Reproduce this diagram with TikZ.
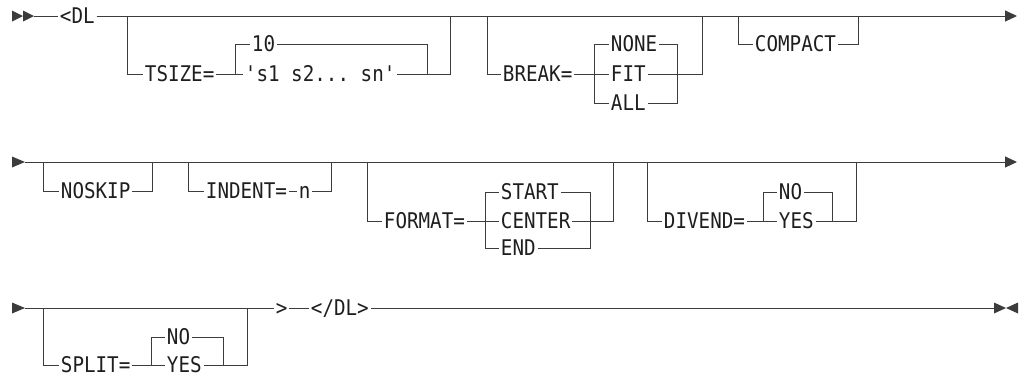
\documentclass[tikz,border=0pt]{standalone}
\usepackage{fontspec}
\setmonofont[FakeStretch=0.89]{DejaVu Sans Mono}
\usetikzlibrary{arrows.meta}

\definecolor{railgray}{HTML}{3C3C3C}
\definecolor{inkgray}{HTML}{1E1E1E}

\begin{document}
\begin{tikzpicture}[
x=1pt, y=-1pt,
line width=0.9pt,
color=railgray,
every node/.style={
inner ysep=0pt,
inner xsep=1.5pt,
anchor=west,
text height=15pt,
text depth=0pt,
text=inkgray,
font=\ttfamily\fontsize{21.6}{22}\selectfont
},
endtip/.style={-{Triangle[length=12pt,width=11pt]}}
]

\useasboundingbox (0,0) rectangle (1022,376);

\fill (12,10.5) -- (23,16) -- (12,21.5) -- cycle;
\fill (23,10.5) -- (34,16) -- (23,21.5) -- cycle;
\coordinate (S1) at (34,16);

\node (DL) at (58,16) {<DL};

\node (TSIZE) at (143,74) {TSIZE=};
\node (TEN) at (250,44) {10};
\node (TLIST) at (243,74) {'s1 s2... sn'};

\node (BREAK) at (501,74) {BREAK=};
\node (NONE) at (609,44) {NONE};
\node (FIT) at (609,74) {FIT};
\node (ALL) at (609,103) {ALL};

\node (COMPACT) at (753,44) {COMPACT};

\coordinate (E1) at (1017,16);
\coordinate (A1) at (127,16);
\coordinate (A2) at (235,74);
\coordinate (A3) at (427,74);
\coordinate (A4) at (450,16);
\coordinate (B1) at (487,16);
\coordinate (B2) at (594,74);
\coordinate (B3) at (677,74);
\coordinate (B4) at (702,16);
\coordinate (C1) at (738,16);
\coordinate (C2) at (858,16);

\draw (S1) -- (DL);
\draw[endtip] (DL) -- (E1);
\draw (A1) |- (TSIZE);
\draw (TSIZE) -- (TLIST);
\draw (A2) |- (TEN);
\draw (TEN) -| (A3);
\draw (TLIST) -| (A4);
\draw (B1) |- (BREAK);
\draw (BREAK) -- (FIT);
\draw (B2) |- (NONE);
\draw (B2) |- (ALL);
\draw (NONE) -| (B3);
\draw (ALL) -| (B3);
\draw (FIT) -| (B4);
\draw (C1) |- (COMPACT);
\draw (COMPACT) -| (C2);

\fill (12,156.5) -- (25,162) -- (12,167.5) -- cycle;
\coordinate (S2) at (25,162);
\coordinate (E2) at (1017,162);

\node (NOSKIP) at (59,191) {NOSKIP};
\node (INDENT) at (204,191) {INDENT=};
\node (N) at (297,191) {n};

\node (FORMAT) at (382,221) {FORMAT=};
\node (START) at (499,192) {START};
\node (CENTER) at (499,221) {CENTER};
\node (END) at (499,248) {END};

\node (DIVEND) at (662,221) {DIVEND=};
\node (NO) at (777,192) {NO};
\node (YES) at (777,221) {YES};

\coordinate (D1) at (43,162);
\coordinate (D2) at (152,162);
\coordinate (F1) at (188,162);
\coordinate (F2) at (331,162);
\coordinate (G1) at (367,162);
\coordinate (G2) at (485,221);
\coordinate (G3) at (590,221);
\coordinate (G4) at (613,162);
\coordinate (H1) at (647,162);
\coordinate (H2) at (763,221);
\coordinate (H3) at (832,221);
\coordinate (H4) at (856,162);

\draw[endtip] (S2) -- (E2);
\draw (D1) |- (NOSKIP);
\draw (NOSKIP) -| (D2);
\draw (F1) |- (INDENT);
\draw (INDENT) -- (N);
\draw (N) -| (F2);
\draw (G1) |- (FORMAT);
\draw (FORMAT) -- (CENTER);
\draw (G2) |- (START);
\draw (G2) |- (END);
\draw (START) -| (G3);
\draw (END) -| (G3);
\draw (CENTER) -| (G4);
\draw (H1) |- (DIVEND);
\draw (DIVEND) -- (YES);
\draw (H2) |- (NO);
\draw (NO) -| (H3);
\draw (YES) -| (H4);

\fill (12,302.5) -- (25,308) -- (12,313.5) -- cycle;
\coordinate (S3) at (25,308);

\node (SPLIT) at (59,365) {SPLIT=};
\node (SNO) at (165,337) {NO};
\node (SYES) at (165,365) {YES};

\node (GT) at (274,308) {>};
\node (ENDDL) at (309,308) {</DL>};

\coordinate (I1) at (43,308);
\coordinate (I2) at (151,365);
\coordinate (I3) at (223,365);
\coordinate (I4) at (247,308);
\coordinate (E3) at (994,308);

\draw (S3) -- (GT);
\draw (GT) -- (ENDDL);
\draw (ENDDL) -- (E3);
\draw (I1) |- (SPLIT);
\draw (SPLIT) -- (SYES);
\draw (I2) |- (SNO);
\draw (SNO) -| (I3);
\draw (SYES) -| (I4);

\fill (994,302.5) -- (1006,308) -- (994,313.5) -- cycle;
\fill (1018,302.5) -- (1006,308) -- (1018,313.5) -- cycle;

\end{tikzpicture}
\end{document}
